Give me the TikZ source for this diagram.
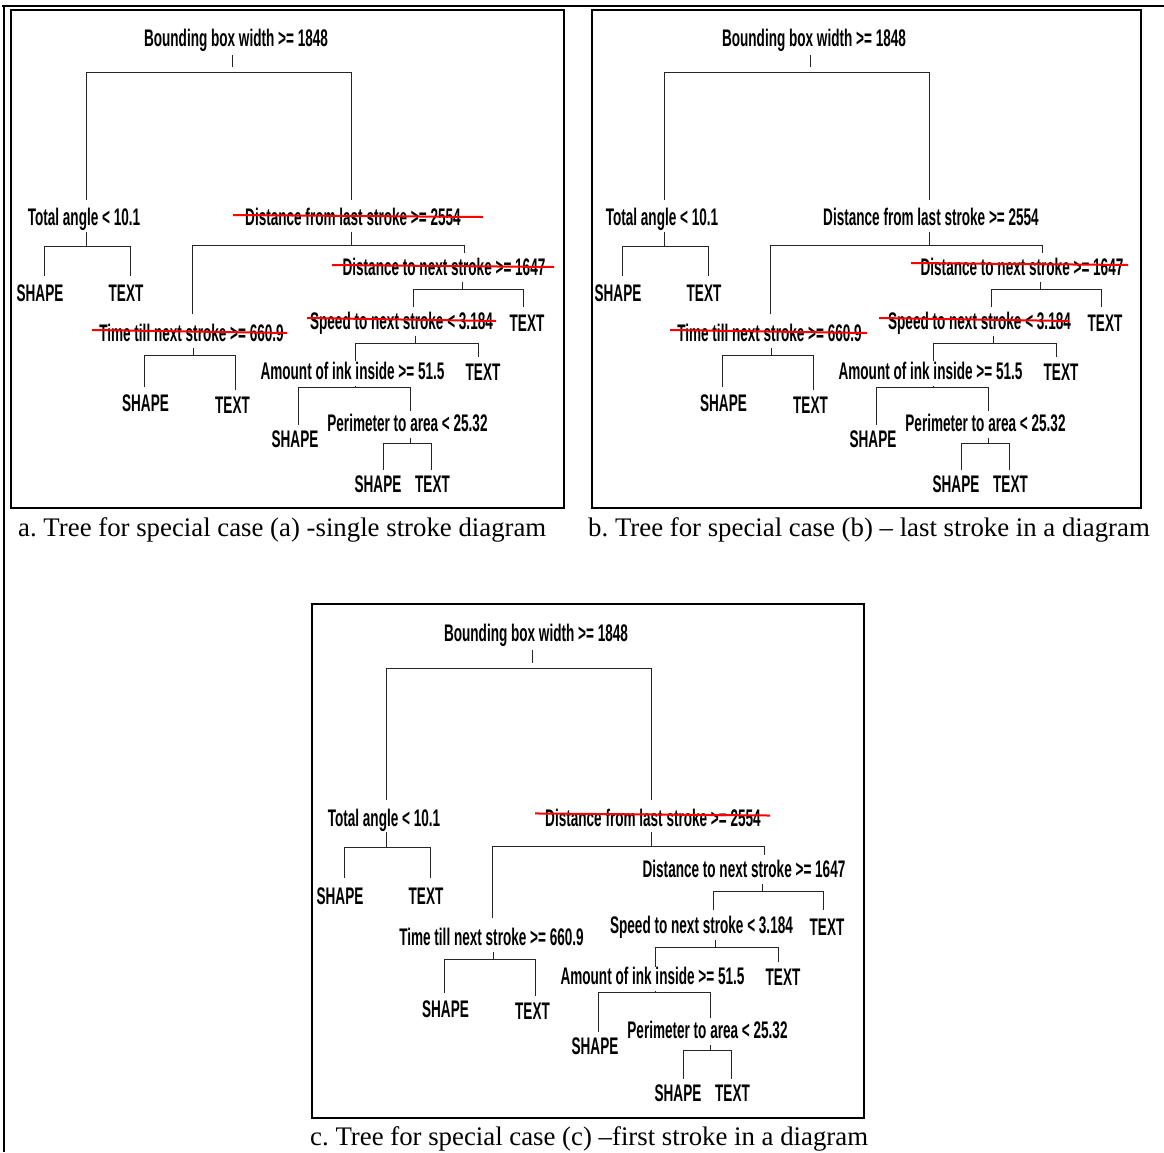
\documentclass[tikz,border=0pt]{standalone}
\usepackage{fontspec}
\setmainfont{Liberation Serif}
\newfontfamily\treefont[FakeStretch=0.565]{Liberation Sans Bold}
\frenchspacing
\tikzset{
  lbl/.style={font=\treefont\fontsize{24}{24}\selectfont, inner sep=0pt,
              text height=17pt, text depth=0pt, anchor=center},
  edge/.style={line width=1pt, draw=black!85},
  strikeline/.style={line width=2pt, draw=red},
  frame/.style={line width=2pt, draw=black},
  capt/.style={font=\fontsize{26.8}{30}\selectfont, inner sep=0pt, anchor=base west},
}
\newcommand\strikeout[5]{\draw[strikeline] ([xshift=#2,yshift=#4]#1.center) -- ([xshift=#3,yshift=#5]#1.center);}
\newcommand\conn[4]{\draw[edge] (#1j) -| ([xshift=#3,yshift=#4]#2.north);}
\newcommand\stem[1]{\draw[edge] (#1j |- #1.south) ++(0,6) -- (#1j);}
\newcommand\treebody[4]{%
  \node[lbl] (root) at (236,38) {Bounding box width >= 1848};
  \node[lbl] (ta) at (84,217) {Total angle < 10.1};
  \node[lbl] (dfl) at (353,217) {Distance from last stroke >= 2554};
  \node[lbl] (sa) at (40,293) {SHAPE};
  \node[lbl] (xa) at (126,293) {TEXT};
  \node[lbl] (ttn) at (191.5,333) {Time till next stroke >= 660.9};
  \node[lbl] (sb) at (145.5,403) {SHAPE};
  \node[lbl] (xb) at (232.5,405) {TEXT};
  \node[lbl] (dtn) at (444,267) {Distance to next stroke >= 1647};
  \node[lbl] (spd) at (401.5,321) {Speed to next stroke < 3.184};
  \node[lbl] (xc) at (527,323) {TEXT};
  \node[lbl] (amt) at (352.5,371) {Amount of ink inside >= 51.5};
  \node[lbl] (xd) at (483,372) {TEXT};
  \node[lbl] (per) at (407.5,423) {Perimeter to area < 25.32};
  \node[lbl] (sc) at (295,439) {SHAPE};
  \node[lbl] (sd) at (378,484) {SHAPE};
  \node[lbl] (xe) at (432.5,484) {TEXT};
  \coordinate (rootj) at (232,72);
  \coordinate (taj) at (86,246);
  \coordinate (dflj) at (351,245);
  \coordinate (ttnj) at (193,355);
  \coordinate (dtnj) at (462,289);
  \coordinate (spdj) at (415,343);
  \coordinate (amtj) at (355,387);
  \coordinate (perj) at (410,443);
  \draw[edge] (rootj |- root.south) ++(0,8.5) -- ++(0,12);
  \stem{ta}\stem{dfl}\stem{ttn}\stem{dtn}\stem{spd}\stem{amt}\stem{per}
  \conn{root}{ta}{2}{8.5}\conn{root}{dfl}{-2}{8.5}
  \conn{ta}{sa}{4}{8.5}\conn{ta}{xa}{4}{8.5}
  \conn{dfl}{ttn}{0.5}{10.5}\conn{dfl}{dtn}{20}{5.5}
  \conn{ttn}{sb}{-1.5}{7.5}\conn{ttn}{xb}{2.5}{6.5}
  \conn{dtn}{spd}{11.5}{5.5}\conn{dtn}{xc}{-4}{7.5}
  \conn{spd}{amt}{2.5}{1}\conn{spd}{xd}{-5}{6.5}
  \conn{amt}{sc}{3}{5.5}\conn{amt}{per}{2.5}{3.5}
  \conn{per}{sd}{5}{5.5}\conn{per}{xe}{-1.5}{5.5}
  #1#2#3#4%
}
\begin{document}
\begin{tikzpicture}[x=1pt,y=-1pt]
  \useasboundingbox (0,0) rectangle (1164,1152);
  \draw[frame] (2,5.5) -- (1164,5.5);
  \draw[frame] (3.5,4.5) -- (3.5,1152);
  \draw[frame] (11,10) rectangle (564,508);
  \draw[frame] (592,10) rectangle (1141,508);
  \draw[frame] (312,604) rectangle (864,1118);
  \begin{scope}[name prefix=a-]
    \treebody{\strikeout{dfl}{-120}{130}{2}{0}}{\strikeout{ttn}{-99.5}{95.5}{3}{0}}{\strikeout{dtn}{-112}{110}{2}{0}}{\strikeout{spd}{-94.5}{94.5}{3}{0}}
  \end{scope}
  \begin{scope}[shift={(578,0)}, name prefix=b-]
    \treebody{}{\strikeout{ttn}{-99.5}{97.5}{3}{0}}{\strikeout{dtn}{-111}{106}{4}{2}}{\strikeout{spd}{-100.5}{89.5}{3}{0}}
  \end{scope}
  \begin{scope}[shift={(300,593.8)}, yscale=1.031, name prefix=c-]
    \treebody{\strikeout{dfl}{-118}{117}{4}{2}}{}{}{}
  \end{scope}
  \node[capt] (capa) at (18,536) {a. Tree for special case (a) -single stroke diagram};
  \node[capt] (capb) at (588,536) {b. Tree for special case (b) -- last stroke in a diagram};
  \node[capt] (capc) at (310,1145) {c. Tree for special case (c) --first stroke in a diagram};
\end{tikzpicture}
\end{document}
